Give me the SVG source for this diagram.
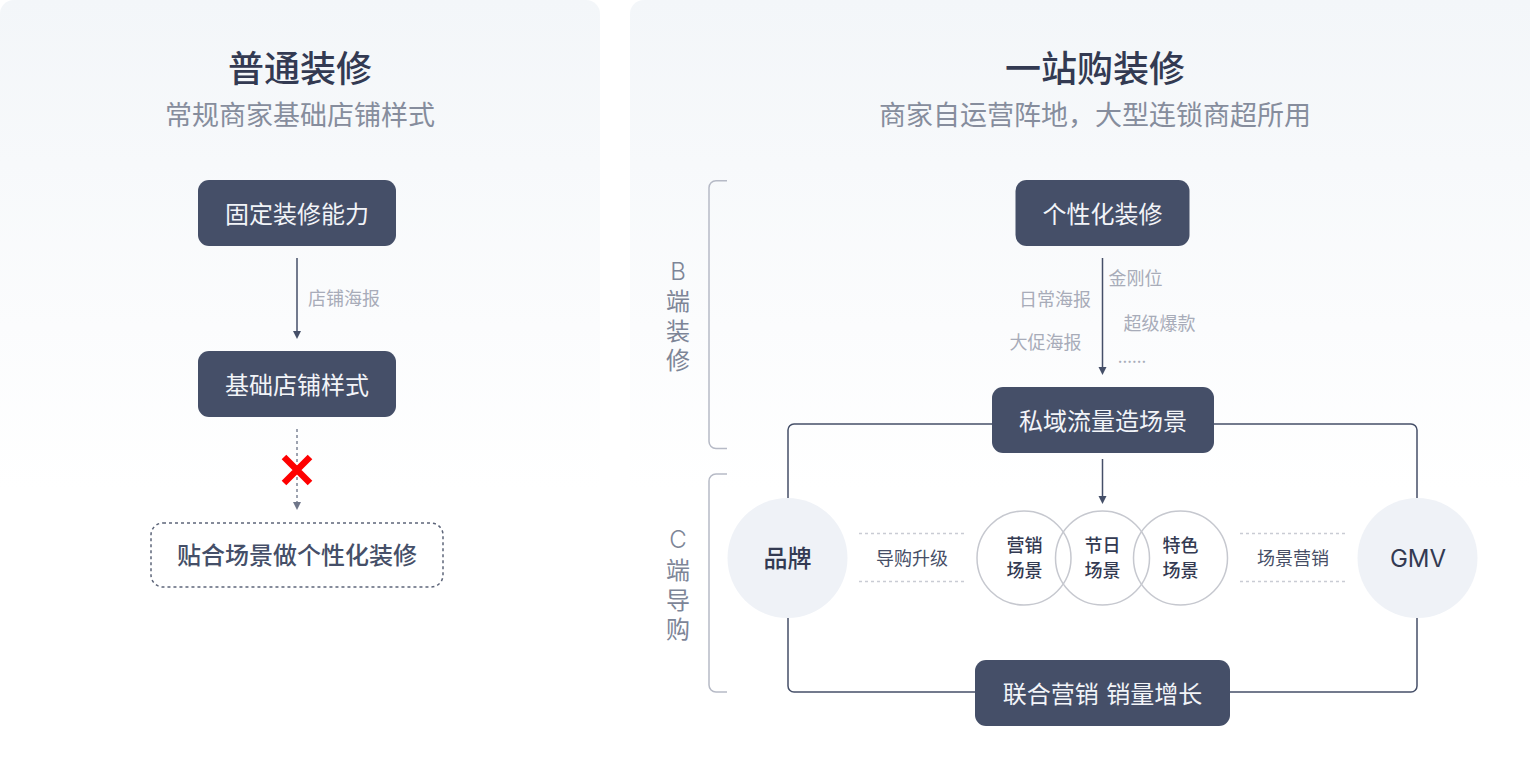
<svg xmlns="http://www.w3.org/2000/svg" width="1530" height="780" viewBox="0 0 1530 780">
<style>
text{font-family:"Noto Sans CJK SC","Inter","Liberation Sans",sans-serif;text-anchor:middle}
.title{font-size:36px;font-weight:500;fill:#333a52}
.sub{font-size:27px;fill:#868d9d}
.bt{font-size:24px;fill:#f2f4f8}
.lbl{font-size:18px;fill:#a8acb9}
.mid{font-size:18px;fill:#464e66}
.sc{font-size:18px;font-weight:500;fill:#333a52}
.side{font-size:24px;fill:#7d8597}
.lat{font-family:Inter,"Liberation Sans",sans-serif;font-weight:300}
.box{fill:#454f68}
.ln{fill:none;stroke:#454f68;stroke-width:1.5}
.br{fill:none;stroke:#b6bac6;stroke-width:1.5}
.dot{fill:none;stroke:#c9ccd4;stroke-width:1.5;stroke-dasharray:3 3}
.c{fill:none;stroke:#c6c8cf;stroke-width:1.5}
.big{fill:#eff2f7}
</style>
<defs>
<linearGradient id="g" x1="0" y1="0" x2="0" y2="1"><stop offset="0" stop-color="#f3f6f9"/><stop offset="1" stop-color="#ffffff"/></linearGradient>
</defs>
<rect width="1530" height="780" fill="#fff"/>
<g id="panel-left"><path d="M0 14A14 14 0 0 1 14 0H586A14 14 0 0 1 600 14V490H0Z" fill="url(#g)"/></g>
<g id="panel-right"><path d="M630 14A14 14 0 0 1 644 0H1530V490H630Z" fill="url(#g)"/></g>

<g id="titles">
<text class="title" x="300" y="82">普通装修</text>
<text class="sub" x="300" y="125">常规商家基础店铺样式</text>
<text class="title" x="1095" y="82">一站购装修</text>
<text class="sub" x="1095" y="125">商家自运营阵地，大型连锁商超所用</text>
</g>

<g id="connectors">
<path class="ln" d="M297 258V332" />
<path d="M293 331h8l-4 8z" fill="#454f68"/>
<path d="M297 429V503" fill="none" stroke="#7d8597" stroke-width="1.5" stroke-dasharray="3 3"/>
<path d="M293 502h8l-4 8z" fill="#6f7689"/>
<path class="ln" d="M1102.500 258V368"/>
<path d="M1098.500 367h8l-4 8z" fill="#454f68"/>
<path class="ln" d="M1102.500 459V497"/>
<path d="M1098.500 496h8l-4 8z" fill="#454f68"/>
<path class="ln" d="M992 424H794a6 6 0 0 0-6 6V498"/>
<path class="ln" d="M1213 424H1411a6 6 0 0 1 6 6V498"/>
<path class="ln" d="M788 618V686a6 6 0 0 0 6 6H975"/>
<path class="ln" d="M1417 618V686a6 6 0 0 1-6 6H1230"/>
<path class="br" d="M727 180.750H716a7 7 0 0 0-7 7V441.500a7 7 0 0 0 7 7H727"/>
<path class="br" d="M727 474H716a7 7 0 0 0-7 7V685a7 7 0 0 0 7 7H727"/>
<path class="dot" d="M859 533.500H965M859 581.500H965M1240 533.500H1346M1240 581.500H1346"/>
</g>

<g id="n-guding"><rect class="box" x="198" y="180" width="198" height="66" rx="11"/><text class="bt" x="297" y="222.500">固定装修能力</text></g>
<g id="n-jichu"><rect class="box" x="198" y="351" width="198" height="66" rx="11"/><text class="bt" x="297" y="393.500">基础店铺样式</text></g>
<g id="n-tiehe"><rect x="151" y="523" width="292" height="64" rx="12" fill="none" stroke="#5d6579" stroke-width="1.500" stroke-dasharray="3 3"/><text x="297" y="564" font-size="24" font-weight="500" fill="#454f68">贴合场景做个性化装修</text></g>
<g id="cross"><path d="M284 457L310 483M310 457L284 483" stroke="#fe0000" stroke-width="6.500" fill="none"/></g>
<text class="lbl" x="344" y="305">店铺海报</text>

<g id="n-gexing"><rect class="box" x="1015.500" y="180" width="174" height="66" rx="11"/><text class="bt" x="1102.500" y="222.500">个性化装修</text></g>
<g id="n-siyu"><rect class="box" x="992" y="387" width="222" height="66" rx="11"/><text class="bt" x="1103" y="429.500">私域流量造场景</text></g>
<g id="n-lianhe"><rect class="box" x="975" y="660" width="255" height="66" rx="11"/><text class="bt" x="1102.500" y="702.500" word-spacing="2">联合营销 销量增长</text></g>

<text class="lbl" x="1135.500" y="285">金刚位</text>
<text class="lbl" x="1055" y="306">日常海报</text>
<text class="lbl" x="1159.500" y="330">超级爆款</text>
<text class="lbl" x="1045.500" y="349">大促海报</text>
<text class="lbl" x="1132" y="363" style="font-size:17px">......</text>

<g id="side-b"><text class="side"><tspan class="lat" x="678" y="280">B</tspan><tspan x="678" y="310">端</tspan><tspan x="678" y="340">装</tspan><tspan x="678" y="369">修</tspan></text></g>
<g id="side-c"><text class="side"><tspan class="lat" x="678" y="548">C</tspan><tspan x="678" y="579">端</tspan><tspan x="678" y="609">导</tspan><tspan x="678" y="638">购</tspan></text></g>

<g id="n-brand"><circle class="big" cx="787.500" cy="558" r="60"/><text x="787.500" y="567" font-size="24" font-weight="500" fill="#333a52">品牌</text></g>
<g id="n-gmv"><circle class="big" cx="1417.500" cy="558" r="60"/><text x="1418" y="567" font-size="24" fill="#333a52" style="font-family:Inter,'Liberation Sans',sans-serif">GMV</text></g>

<g id="n-yingxiao"><circle class="c" cx="1024" cy="558" r="47"/><text class="sc" x="1024.500" y="552">营销</text><text class="sc" x="1024.500" y="576.500">场景</text></g>
<g id="n-jieri"><circle class="c" cx="1102.500" cy="558" r="47"/><text class="sc" x="1102.500" y="552">节日</text><text class="sc" x="1102.500" y="576.500">场景</text></g>
<g id="n-tese"><circle class="c" cx="1180.500" cy="558" r="47"/><text class="sc" x="1180.500" y="552">特色</text><text class="sc" x="1180.500" y="576.500">场景</text></g>

<text class="mid" x="912" y="564.500">导购升级</text>
<text class="mid" x="1293" y="564.500">场景营销</text>
</svg>
